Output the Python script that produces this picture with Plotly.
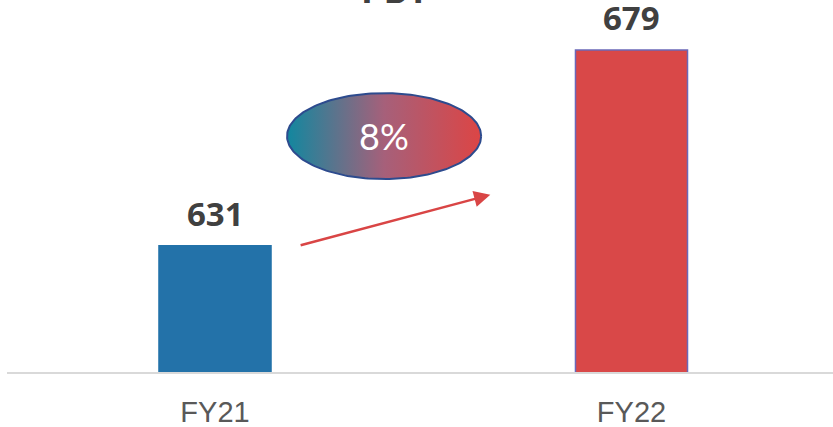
import numpy as np
import plotly.graph_objects as go

# data
years = ["FY21", "FY22"]
pbt = [631, 679]
growth_label = "8%"
title_text = "PBT"

bar_colors = ["#2372a9", "#d94848"]
bar_lines = ["#2372a9", "#6b68b8"]
xpos = list(range(len(years)))

fig = go.Figure()

fig.add_trace(go.Bar(
    x=xpos, y=pbt, width=0.269,
    marker=dict(color=bar_colors, line=dict(color=bar_lines, width=1.5)),
    hoverinfo="skip", showlegend=False,
))

# value labels above the bars
for x, v in zip(xpos, pbt):
    fig.add_annotation(x=x, y=v, text=f"<b>{v}</b>", showarrow=False,
                       yanchor="bottom", yshift=8,
                       font=dict(family="Open Sans", size=33, color="#404040"))

# growth bubble (ellipse with horizontal gradient)
cx, cy, rx, ry = 0.406, 657.9, 0.233, 10.55
t = np.linspace(0, 2 * np.pi, 200)
fig.add_trace(go.Scatter(
    x=cx + rx * np.cos(t), y=cy + ry * np.sin(t),
    mode="lines", fill="toself",
    fillgradient=dict(type="horizontal",
                      colorscale=[[0, "#12879f"], [0.5, "#a6607a"], [1, "#dc4545"]]),
    line=dict(color="#2d4b8e", width=2),
    hoverinfo="skip", showlegend=False,
))
fig.add_annotation(x=cx, y=cy, text=growth_label, showarrow=False,
                   font=dict(family="Lato", size=36, color="white"))

# growth arrow
fig.add_annotation(x=0.661, y=643.5, ax=0.202, ay=631.0,
                   xref="x", yref="y", axref="x", ayref="y",
                   text="", showarrow=True, arrowhead=2, arrowsize=1.3,
                   arrowwidth=2.5, arrowcolor="#d94545")

# cut-off title at the top
fig.add_annotation(x=0.47, y=1.0285, xref="paper", yref="paper",
                   text=f"<b>{title_text}</b>", showarrow=False, yanchor="middle",
                   font=dict(family="Open Sans", size=36, color="#404040"))

fig.update_layout(
    width=833, height=427,
    margin=dict(l=7, r=0, t=0, b=55),
    paper_bgcolor="white", plot_bgcolor="white",
    xaxis=dict(range=[-0.4994, 1.4838], tickvals=xpos, ticktext=years,
               showgrid=False, zeroline=False, showline=True,
               linecolor="#d9d9d9", linewidth=2, ticks="", ticklabelstandoff=13,
               tickfont=dict(family="Liberation Sans", size=29, color="#595959")),
    yaxis=dict(range=[600, 691.3], visible=False, showgrid=False, zeroline=False),
)

fig.write_html("out.html", config={"displayModeBar": False},
               post_script="document.body.style.margin='0';")
